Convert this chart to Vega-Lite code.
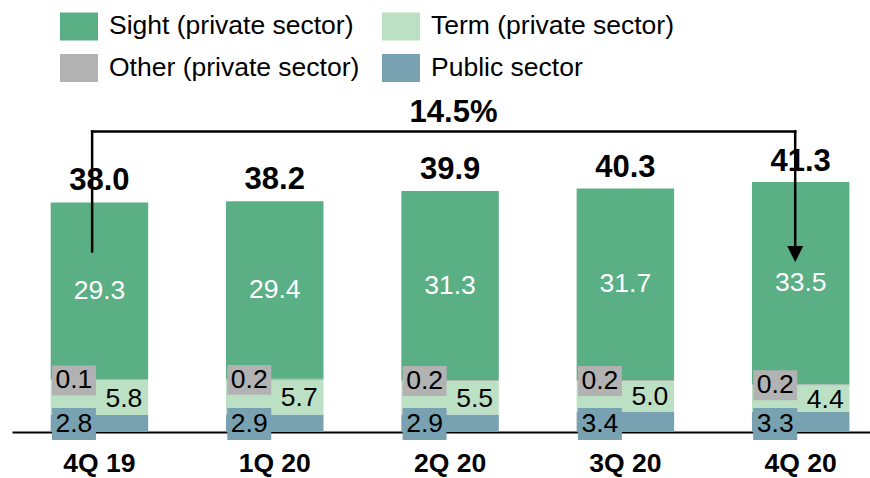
{
  "$schema": "https://vega.github.io/schema/vega-lite/v6.json",
  "width": 858,
  "height": 432,
  "autosize": {"type": "none"},
  "padding": {"left": 12, "top": 0, "right": 0, "bottom": 46},
  "background": "white",
  "config": {"view": {"stroke": null}, "font": "Liberation Sans"},
  "datasets": {
    "deposits": [
      {"quarter": "4Q 19", "series": "Public sector", "amount": 2.8, "rank": 1},
      {"quarter": "4Q 19", "series": "Term (private sector)", "amount": 5.8, "rank": 2},
      {"quarter": "4Q 19", "series": "Other (private sector)", "amount": 0.1, "rank": 3},
      {"quarter": "4Q 19", "series": "Sight (private sector)", "amount": 29.3, "rank": 4},
      {"quarter": "1Q 20", "series": "Public sector", "amount": 2.9, "rank": 1},
      {"quarter": "1Q 20", "series": "Term (private sector)", "amount": 5.7, "rank": 2},
      {"quarter": "1Q 20", "series": "Other (private sector)", "amount": 0.2, "rank": 3},
      {"quarter": "1Q 20", "series": "Sight (private sector)", "amount": 29.4, "rank": 4},
      {"quarter": "2Q 20", "series": "Public sector", "amount": 2.9, "rank": 1},
      {"quarter": "2Q 20", "series": "Term (private sector)", "amount": 5.5, "rank": 2},
      {"quarter": "2Q 20", "series": "Other (private sector)", "amount": 0.2, "rank": 3},
      {"quarter": "2Q 20", "series": "Sight (private sector)", "amount": 31.3, "rank": 4},
      {"quarter": "3Q 20", "series": "Public sector", "amount": 3.4, "rank": 1},
      {"quarter": "3Q 20", "series": "Term (private sector)", "amount": 5.0, "rank": 2},
      {"quarter": "3Q 20", "series": "Other (private sector)", "amount": 0.2, "rank": 3},
      {"quarter": "3Q 20", "series": "Sight (private sector)", "amount": 31.7, "rank": 4},
      {"quarter": "4Q 20", "series": "Public sector", "amount": 3.3, "rank": 1},
      {"quarter": "4Q 20", "series": "Term (private sector)", "amount": 4.4, "rank": 2},
      {"quarter": "4Q 20", "series": "Other (private sector)", "amount": 0.2, "rank": 3},
      {"quarter": "4Q 20", "series": "Sight (private sector)", "amount": 33.5, "rank": 4}
    ],
    "totals": [
      {"quarter": "4Q 19", "total": 38.0},
      {"quarter": "1Q 20", "total": 38.2},
      {"quarter": "2Q 20", "total": 39.9},
      {"quarter": "3Q 20", "total": 40.3},
      {"quarter": "4Q 20", "total": 41.3}
    ]
  },
  "data": {"name": "deposits"},
  "encoding": {
    "x": {
      "field": "quarter",
      "type": "nominal",
      "sort": null,
      "scale": {
        "domain": ["4Q 19", "1Q 20", "2Q 20", "3Q 20", "4Q 20"],
        "paddingInner": 0.444,
        "paddingOuter": 0.169,
        "align": 0.653
      },
      "axis": {
        "title": null,
        "labelAngle": 0,
        "labelFont": "Liberation Sans",
        "labelFontSize": 26.5,
        "labelFontWeight": "bold",
        "labelColor": "black",
        "labelPadding": 39,
        "labelBaseline": "alphabetic",
        "ticks": false,
        "tickSize": 0,
        "domainColor": "black",
        "domainWidth": 2,
        "grid": false
      }
    }
  },
  "layer": [
    {
      "transform": [
        {"stack": "amount", "groupby": ["quarter"], "sort": [{"field": "rank", "order": "ascending"}], "as": ["y0", "y1"]}
      ],
      "mark": {"type": "bar"},
      "encoding": {
        "y": {"field": "y0", "type": "quantitative", "scale": {"domain": [0, 71.52], "nice": false, "zero": true}, "axis": null},
        "y2": {"field": "y1"},
        "color": {
          "field": "series",
          "type": "nominal",
          "scale": {
            "domain": ["Sight (private sector)", "Term (private sector)", "Other (private sector)", "Public sector"],
            "range": ["#5BAF84", "#BCE0C4", "#B2B2B2", "#78A1B2"]
          },
          "legend": {
            "title": null,
            "orient": "none",
            "legendX": 48,
            "legendY": 7,
            "columns": 2,
            "direction": "horizontal",
            "symbolType": "M-1,-0.737H1V0.737H-1Z",
            "symbolSize": 1444,
            "symbolStrokeWidth": 0,
            "symbolOpacity": 1,
            "labelFont": "Liberation Sans",
            "labelFontSize": 26.5,
            "labelColor": "black",
            "labelOffset": 11,
            "labelLimit": 400,
            "columnPadding": 22,
            "rowPadding": 8,
            "padding": 0
          }
        }
      }
    },
    {
      "transform": [{"filter": {"field": "series", "equal": "Public sector"}}],
      "mark": {"type": "point", "shape": "M-1,-0.727H1V0.727H-1Z", "size": 1936, "filled": true, "opacity": 1, "fill": "#78A1B2", "strokeWidth": 0, "xOffset": -25.5, "yOffset": -8},
      "encoding": {"y": {"datum": 0}}
    },
    {
      "transform": [{"filter": {"field": "series", "equal": "Public sector"}}],
      "mark": {"type": "text", "fontSize": 26.5, "font": "Liberation Sans", "color": "black", "baseline": "middle", "align": "center", "xOffset": -25.5, "yOffset": -8},
      "encoding": {"y": {"datum": 0}, "text": {"field": "amount", "type": "quantitative", "format": ".1f"}}
    },
    {
      "transform": [
        {"stack": "amount", "groupby": ["quarter"], "sort": [{"field": "rank", "order": "ascending"}], "as": ["y0", "y1"]},
        {"filter": {"field": "series", "equal": "Other (private sector)"}}
      ],
      "mark": {"type": "point", "shape": "M-1,-0.68H1V0.68H-1Z", "size": 1936, "filled": true, "opacity": 1, "fill": "#B2B2B2", "strokeWidth": 0, "xOffset": -25.5, "yOffset": 1},
      "encoding": {"y": {"field": "y1", "type": "quantitative"}}
    },
    {
      "transform": [
        {"stack": "amount", "groupby": ["quarter"], "sort": [{"field": "rank", "order": "ascending"}], "as": ["y0", "y1"]},
        {"filter": {"field": "series", "equal": "Other (private sector)"}}
      ],
      "mark": {"type": "text", "fontSize": 26.5, "font": "Liberation Sans", "color": "black", "baseline": "middle", "align": "center", "xOffset": -25.5, "yOffset": 1},
      "encoding": {"y": {"field": "y1", "type": "quantitative"}, "text": {"field": "amount", "type": "quantitative", "format": ".1f"}}
    },
    {
      "transform": [
        {"stack": "amount", "groupby": ["quarter"], "sort": [{"field": "rank", "order": "ascending"}], "as": ["y0", "y1"]},
        {"filter": {"field": "series", "oneOf": ["Term (private sector)", "Sight (private sector)"]}},
        {"fold": ["y0", "y1"], "as": ["edge", "pos"]},
        {"aggregate": [{"op": "mean", "field": "pos", "as": "mid"}], "groupby": ["quarter", "series", "amount"]},
        {"filter": {"field": "series", "equal": "Term (private sector)"}}
      ],
      "mark": {"type": "text", "fontSize": 26.5, "font": "Liberation Sans", "color": "black", "baseline": "middle", "align": "center", "xOffset": 24.5, "yOffset": 1},
      "encoding": {"y": {"field": "mid", "type": "quantitative"}, "text": {"field": "amount", "type": "quantitative", "format": ".1f"}}
    },
    {
      "transform": [
        {"stack": "amount", "groupby": ["quarter"], "sort": [{"field": "rank", "order": "ascending"}], "as": ["y0", "y1"]},
        {"filter": {"field": "series", "oneOf": ["Term (private sector)", "Sight (private sector)"]}},
        {"fold": ["y0", "y1"], "as": ["edge", "pos"]},
        {"aggregate": [{"op": "mean", "field": "pos", "as": "mid"}], "groupby": ["quarter", "series", "amount"]},
        {"filter": {"field": "series", "equal": "Sight (private sector)"}}
      ],
      "mark": {"type": "text", "fontSize": 26.5, "font": "Liberation Sans", "color": "white", "baseline": "middle", "align": "center"},
      "encoding": {"y": {"field": "mid", "type": "quantitative"}, "text": {"field": "amount", "type": "quantitative", "format": ".1f"}}
    },
    {
      "data": {"name": "totals"},
      "mark": {"type": "text", "fontSize": 31, "fontWeight": "bold", "font": "Liberation Sans", "color": "black", "baseline": "alphabetic", "align": "center", "dy": -12},
      "encoding": {"y": {"field": "total", "type": "quantitative"}, "text": {"field": "total", "type": "quantitative", "format": ".1f"}}
    },
    {
      "data": {"values": [{}]},
      "mark": {"type": "rule", "color": "black", "strokeWidth": 2.5, "strokeCap": "square", "xOffset": -7.3},
      "encoding": {"x": {"datum": "4Q 19"}, "y": {"datum": 29.9}, "y2": {"datum": 49.75}}
    },
    {
      "data": {"values": [{}]},
      "mark": {"type": "rule", "color": "black", "strokeWidth": 2.5, "strokeCap": "square", "xOffset": -7.3, "x2Offset": -5.5},
      "encoding": {"x": {"datum": "4Q 19"}, "x2": {"datum": "4Q 20"}, "y": {"datum": 49.75}}
    },
    {
      "data": {"values": [{}]},
      "mark": {"type": "rule", "color": "black", "strokeWidth": 2.5, "strokeCap": "square", "xOffset": -5.5},
      "encoding": {"x": {"datum": "4Q 20"}, "y": {"datum": 30.8}, "y2": {"datum": 49.75}}
    },
    {
      "data": {"values": [{}]},
      "mark": {"type": "point", "shape": "M-1,-1H1L0,1Z", "size": 256, "filled": true, "opacity": 1, "fill": "black", "strokeWidth": 0, "xOffset": -5.5},
      "encoding": {"x": {"datum": "4Q 20"}, "y": {"datum": 29.45}}
    },
    {
      "data": {"values": [{}]},
      "mark": {"type": "text", "fontSize": 31, "fontWeight": "bold", "font": "Liberation Sans", "color": "black", "baseline": "alphabetic", "align": "center", "dx": 3.5},
      "encoding": {"x": {"datum": "2Q 20"}, "y": {"datum": 51.3}, "text": {"value": "14.5%"}}
    }
  ]
}
